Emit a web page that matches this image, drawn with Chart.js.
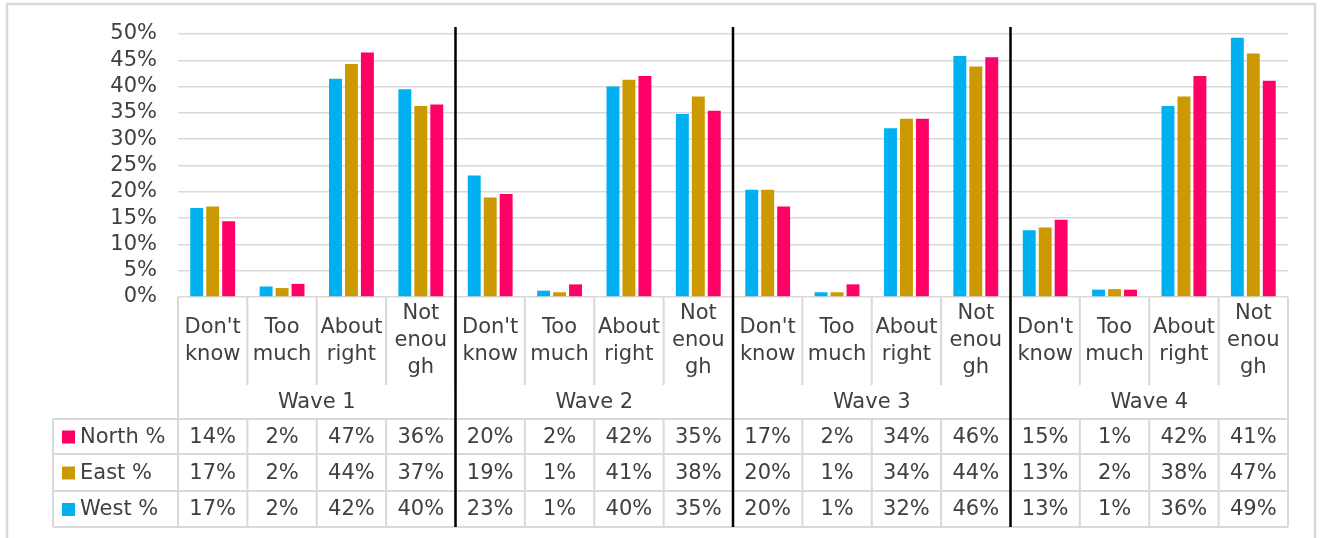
<!DOCTYPE html>
<html><head><meta charset="utf-8">
<script src="https://cdn.jsdelivr.net/npm/chart.js@4.4.1/dist/chart.umd.min.js"></script>
<style>html,body{margin:0;padding:0;background:#fff;overflow:hidden}#wrap{width:1322px;height:538px;position:relative}</style>
</head><body><div id="wrap"><canvas id="c" width="1322" height="538"></canvas></div>
<script>
const waves = ['Wave 1', 'Wave 2', 'Wave 3', 'Wave 4'];
const answers = [["Don't", "know"], ["Too", "much"], ["About", "right"], ["Not", "enou", "gh"]];
const categories = [];
waves.forEach(w => answers.forEach(a => categories.push(a)));

const westValues  = [16.9, 2.0, 41.5, 39.5,  23.1, 1.2, 40.0, 34.8,  20.4, 0.9, 32.1, 45.8,  12.7, 1.4, 36.3, 49.3];
const eastValues  = [17.2, 1.7, 44.3, 36.3,  18.9, 0.9, 41.3, 38.1,  20.4, 0.9, 33.9, 43.8,  13.2, 1.5, 38.1, 46.3];
const northValues = [14.4, 2.5, 46.5, 36.6,  19.6, 2.4, 42.0, 35.4,  17.2, 2.4, 33.9, 45.6,  14.7, 1.4, 42.0, 41.1];

const northTable = ['14%','2%','47%','36%','20%','2%','42%','35%','17%','2%','34%','46%','15%','1%','42%','41%'];
const eastTable  = ['17%','2%','44%','37%','19%','1%','41%','38%','20%','1%','34%','44%','13%','2%','38%','47%'];
const westTable  = ['17%','2%','42%','40%','23%','1%','40%','35%','20%','1%','32%','46%','13%','1%','36%','49%'];

const yTickLabels = ['0%','5%','10%','15%','20%','25%','30%','35%','40%','45%','50%'];

const seriesNames = ['West %', 'East %', 'North %'];
const seriesColors = ['#00B0F0', '#CC9900', '#FF0066'];

const FONT = '21px "DejaVu Sans"';
const TEXT = '#404040';
const LINE = '#d9d9d9';

const tablePlugin = {
  id: 'tablePlugin',
  afterDraw(chart) {
    const ctx = chart.ctx;
    const xs = chart.scales.x;
    const area = chart.chartArea;
    const L = area.left, R = area.right, B = area.bottom;
    const half = (xs.getPixelForValue(1) - xs.getPixelForValue(0)) / 2;
    const edge = i => i === categories.length ? xs.getPixelForValue(i - 1) + half : xs.getPixelForValue(i) - half;
    const labelBottom = B + 88;
    const rowTops = [419, 454, 491];
    const tableBottom = 527;
    const labelLeft = 53;

    ctx.save();
    ctx.strokeStyle = LINE; ctx.lineWidth = 2.5;
    ctx.strokeRect(7, 4, 1308, 560);

    ctx.strokeStyle = LINE; ctx.lineWidth = 2;
    ctx.beginPath();
    for (let i = 0; i <= categories.length; i++) {
      const x = edge(i);
      ctx.moveTo(x, B); ctx.lineTo(x, labelBottom);
      ctx.moveTo(x, rowTops[0]); ctx.lineTo(x, tableBottom);
    }
    ctx.moveTo(L, B); ctx.lineTo(L, tableBottom);
    ctx.moveTo(R, B); ctx.lineTo(R, tableBottom);
    rowTops.concat([tableBottom]).forEach(y => { ctx.moveTo(labelLeft, y); ctx.lineTo(R, y); });
    ctx.moveTo(labelLeft, rowTops[0]); ctx.lineTo(labelLeft, tableBottom);
    ctx.stroke();

    ctx.fillStyle = TEXT; ctx.font = FONT;
    ctx.textAlign = 'center'; ctx.textBaseline = 'middle';
    const lh = 27, mid = B + 44;
    categories.forEach((lines, i) => {
      const cx = xs.getPixelForValue(i);
      const y0 = mid - (lines.length - 1) * lh / 2;
      lines.forEach((t, k) => ctx.fillText(t, cx, y0 + k * lh));
    });
    waves.forEach((w, j) => {
      const cx = (edge(j * 4) + edge(j * 4 + 4)) / 2;
      ctx.fillText(w, cx, 403);
    });
    const rows = [[northTable, 2], [eastTable, 1], [westTable, 0]];
    rows.forEach(([vals, si], r) => {
      const cy = (rowTops[r] + (r < 2 ? rowTops[r + 1] : tableBottom)) / 2 + 1;
      vals.forEach((v, i) => {
        ctx.textAlign = 'center';
        ctx.fillStyle = TEXT;
        ctx.fillText(v, xs.getPixelForValue(i), cy);
      });
      ctx.fillStyle = seriesColors[si];
      ctx.fillRect(62, cy - 7, 13, 13);
      ctx.fillStyle = TEXT; ctx.textAlign = 'left';
      ctx.fillText(seriesNames[si], 80, cy);
    });

    ctx.strokeStyle = '#000'; ctx.lineWidth = 2.5;
    ctx.beginPath();
    for (let j = 1; j < waves.length; j++) {
      const x = edge(j * 4);
      ctx.moveTo(x, 27); ctx.lineTo(x, tableBottom);
    }
    ctx.stroke();
    ctx.restore();
  }
};

new Chart(document.getElementById('c'), {
  type: 'bar',
  data: {
    labels: categories,
    datasets: [
      { label: seriesNames[0], data: westValues,  backgroundColor: seriesColors[0] },
      { label: seriesNames[1], data: eastValues,  backgroundColor: seriesColors[1] },
      { label: seriesNames[2], data: northValues, backgroundColor: seriesColors[2] }
    ]
  },
  options: {
    responsive: false,
    animation: false,
    layout: { padding: { left: 8, top: 34, right: 34, bottom: 241 } },
    plugins: { legend: { display: false }, tooltip: { enabled: false } },
    datasets: { bar: { categoryPercentage: 0.69, barPercentage: 0.81 } },
    scales: {
      x: { display: false, grid: { display: false } },
      y: {
        min: 0, max: 50,
        afterFit(s) { s.width = 170; },
        ticks: {
          stepSize: 5,
          autoSkip: false,
          padding: 21,
          color: TEXT,
          font: { family: 'DejaVu Sans', size: 21 },
          callback: (v, i) => yTickLabels[i]
        },
        grid: { color: LINE, lineWidth: 1.5, drawTicks: false },
        border: { display: false }
      }
    }
  },
  plugins: [tablePlugin]
});
</script>
</body></html>
